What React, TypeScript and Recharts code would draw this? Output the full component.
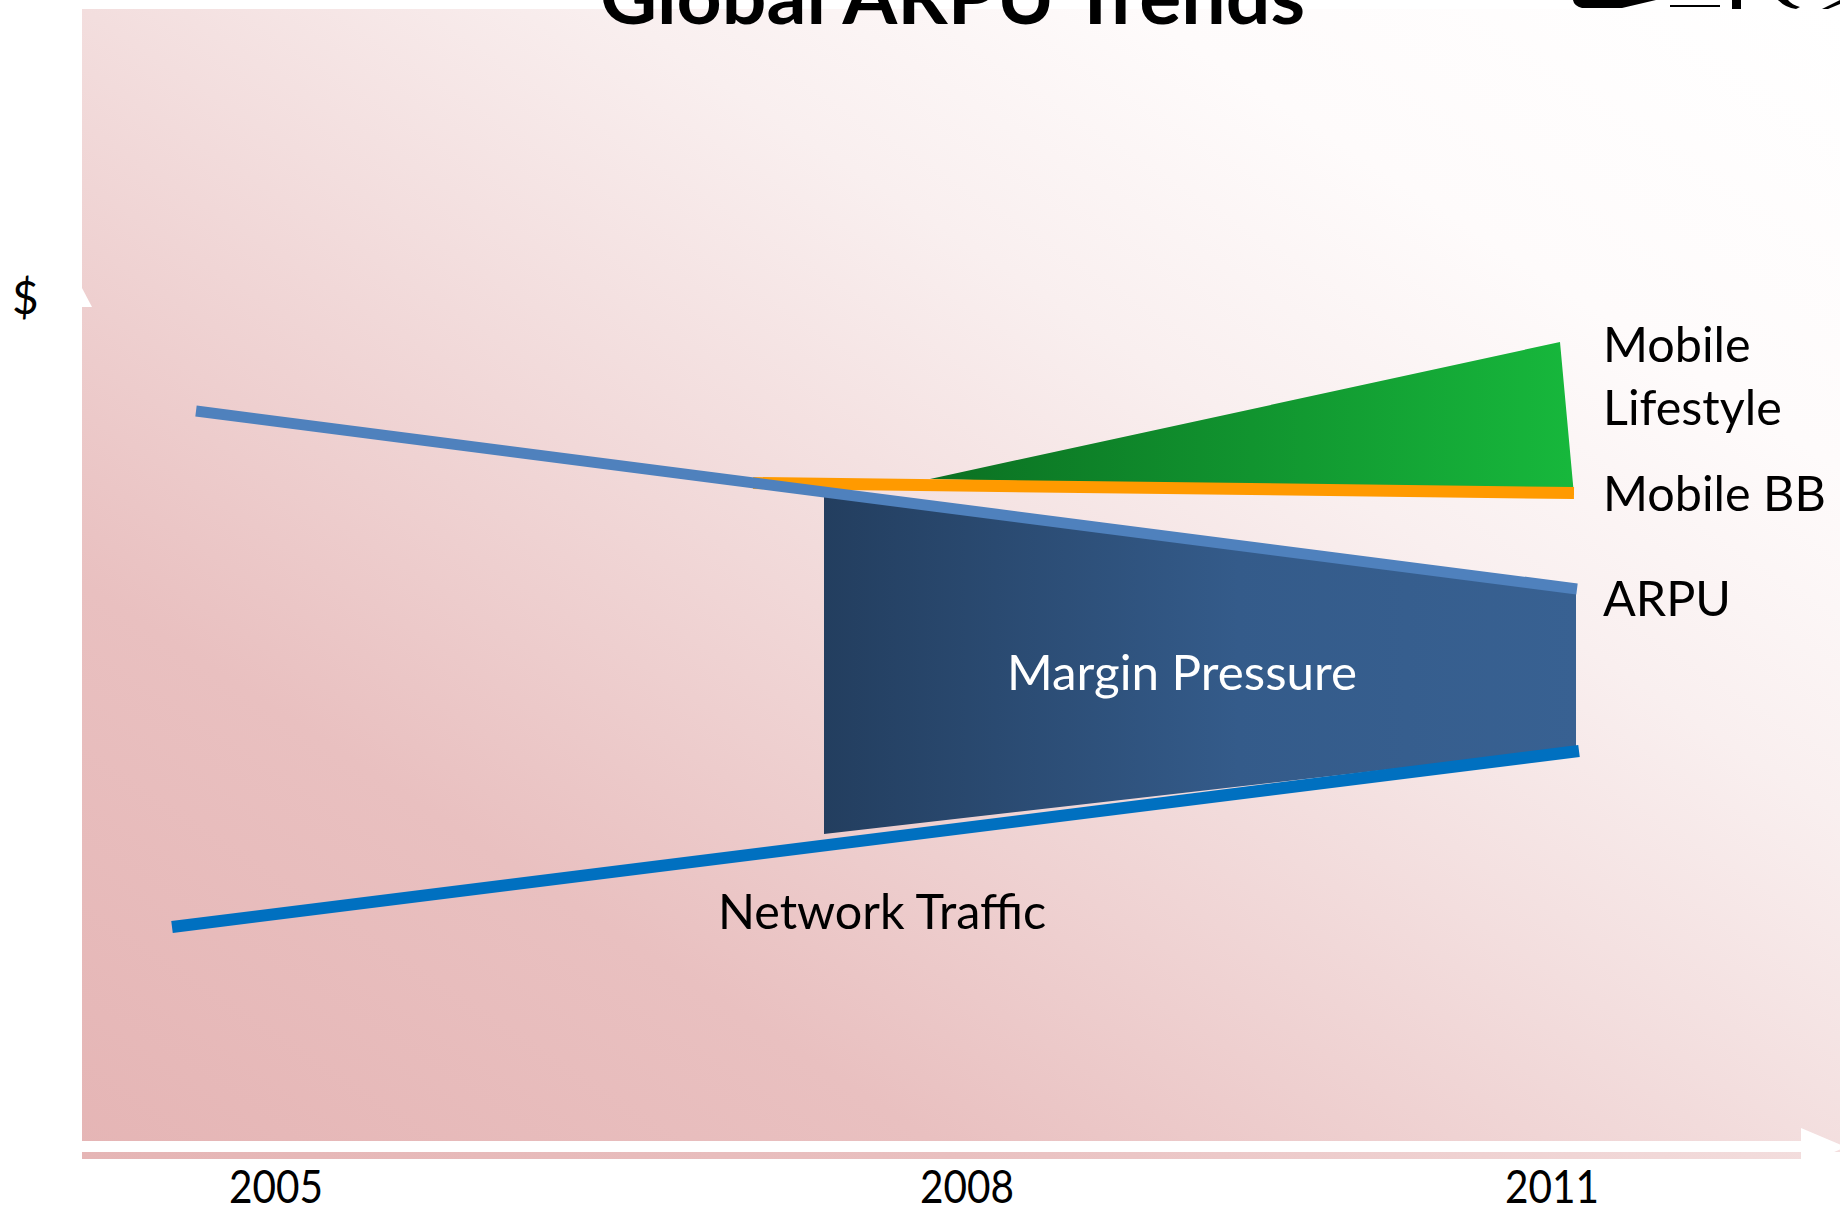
import React from 'react';
import { ComposedChart, Line, Area, XAxis, YAxis } from 'recharts';

const W = 1840;
const H = 1213;
const FONT = "Lato, 'Open Sans', sans-serif";

// Timeline positions of the year labels and their text
const xTickPositions = [19.4, 88.5, 147.0];
const xTickLabels = ['2005', '2008', '2011'];

// ARPU (falling)
const arpuT = [11.4, 149.5];
const arpuV = [74.8, 57.0];

// Network traffic (rising)
const trafficT = [9.0, 149.7];
const trafficV = [23.2, 40.8];

// Mobile BB (flat orange band)
const mobileBBT = [67.1, 149.2];
const mobileBBV = [67.6, 66.6];

// Mobile Lifestyle (green wedge) – low / high edges
const lifestyleT = [84.8, 147.8, 149.2];
const lifestyleLow = [68.0, 66.5, 66.4];
const lifestyleHigh = [68.0, 81.7, 66.4];

// Margin Pressure (navy band) – low / high edges
const marginT = [74.2, 149.4];
const marginLow = [32.5, 41.1];
const marginHigh = [66.7, 57.4];

const arpuData = arpuT.map((t, i) => ({ t, v: arpuV[i] }));
const trafficData = trafficT.map((t, i) => ({ t, v: trafficV[i] }));
const mobileBBData = mobileBBT.map((t, i) => ({ t, v: mobileBBV[i] }));
const lifestyleData = lifestyleT.map((t, i) => ({ t, range: [lifestyleLow[i], lifestyleHigh[i]] }));
const marginData = marginT.map((t, i) => ({ t, range: [marginLow[i], marginHigh[i]] }));

const YearTick = (props: any) => {
  const { x, y, index } = props;
  return (
    <text
      x={x}
      y={y + 44}
      textAnchor="middle"
      fontFamily={FONT}
      fontSize={46}
      fill="#000"
      textLength={94}
      lengthAdjust="spacingAndGlyphs"
    >
      {xTickLabels[index]}
    </text>
  );
};

const Overlay = () => (
  <svg
    width={W}
    height={H}
    style={{ position: 'absolute', left: 0, top: 0, pointerEvents: 'none', overflow: 'hidden' }}
  >
    {/* x-axis arrow */}
    <polygon
      points="82,1141 1801,1141 1801,1128 1846,1147 1801,1166 1801,1152 82,1152"
      fill="#ffffff"
    />
    <rect x={1801} y={1152} width={40} height={9} fill="#ffffff" />
    {/* y-axis arrow head */}
    <polygon points="82,288 92,307 82,307" fill="#ffffff" />

    {/* logo fragment top right */}
    <path d="M1573,0 L1656,0 L1622,8 L1582,8 Q1574,6 1573,0 Z" fill="#000" />
    <rect x={1670} y={5} width={50} height={2} fill="#000" />
    <rect x={1732} y={0} width={9} height={9} fill="#000" />
    <path d="M1778,0 Q1786,8 1796,9 L1800,7 Q1792,5 1788,0 Z" fill="#000" />
    <path d="M1822,9 L1840,0 L1840,4 L1828,9 Z" fill="#000" />

    {/* title (cut at top) */}
    <text
      x={600}
      y={24}
      fontFamily={FONT}
      fontWeight={700}
      fontSize={76}
      fill="#000"
      textLength={705}
      lengthAdjust="spacingAndGlyphs"
    >
      Global ARPU Trends
    </text>

    <text x={12} y={314} fontFamily={FONT} fontSize={46} fill="#000">$</text>

    <text x={1603} y={362} fontFamily={FONT} fontSize={48.5} fill="#000">Mobile</text>
    <text x={1603} y={425} fontFamily={FONT} fontSize={48.5} fill="#000">Lifestyle</text>
    <text x={1603} y={511} fontFamily={FONT} fontSize={48.5} fill="#000">Mobile BB</text>
    <text x={1603} y={616} fontFamily={FONT} fontSize={48.5} fill="#000">ARPU</text>

    <text
      x={1007}
      y={690}
      fontFamily={FONT}
      fontSize={48}
      fill="#ffffff"
      textLength={350}
      lengthAdjust="spacingAndGlyphs"
    >
      Margin Pressure
    </text>
    <text x={718} y={929} fontFamily={FONT} fontSize={48.5} fill="#000">Network Traffic</text>
  </svg>
);

export default function App() {
  return (
    <div style={{ position: 'absolute', left: 0, top: 0, width: W, height: H, background: '#fff', overflow: 'hidden' }}>
      <div
        style={{
          position: 'absolute',
          left: 82,
          top: 9,
          width: W - 82,
          height: 1150,
          background:
            'linear-gradient(to top right, #E5B5B5 0%, #E9C0C0 25%, #F3DEDE 50%, #F9EFEF 65%, #FEFBFB 80%, #FFFFFF 100%)',
        }}
      />
      <div style={{ position: 'absolute', left: 0, top: 0 }}>
        <ComposedChart width={W} height={H} margin={{ top: 9, right: 0, bottom: 0, left: 82 }}>
          <defs>
            <linearGradient id="gMargin" x1="0" y1="0" x2="1" y2="0">
              <stop offset="0%" stopColor="#233E5F" />
              <stop offset="55%" stopColor="#345B8A" />
              <stop offset="100%" stopColor="#386192" />
            </linearGradient>
            <linearGradient id="gLife" x1="0" y1="0" x2="1" y2="0">
              <stop offset="0%" stopColor="#0B7022" />
              <stop offset="100%" stopColor="#17B83C" />
            </linearGradient>
          </defs>
          <XAxis
            dataKey="t"
            type="number"
            domain={[0, 175.8]}
            ticks={xTickPositions}
            interval={0}
            tick={<YearTick />}
            tickSize={0}
            tickMargin={0}
            axisLine={false}
            tickLine={false}
            height={54}
            allowDataOverflow
          />
          <YAxis type="number" domain={[0, 115]} hide width={0} allowDataOverflow />
          <Area
            data={marginData}
            dataKey="range"
            type="linear"
            stroke="none"
            fill="url(#gMargin)"
            fillOpacity={1}
            isAnimationActive={false}
            activeDot={false}
          />
          <Area
            data={lifestyleData}
            dataKey="range"
            type="linear"
            stroke="none"
            fill="url(#gLife)"
            fillOpacity={1}
            isAnimationActive={false}
            activeDot={false}
          />
          <Line
            data={mobileBBData}
            dataKey="v"
            type="linear"
            stroke="#FF9A00"
            strokeWidth={12}
            dot={false}
            activeDot={false}
            isAnimationActive={false}
          />
          <Line
            data={arpuData}
            dataKey="v"
            type="linear"
            stroke="#4F81BD"
            strokeWidth={11}
            dot={false}
            activeDot={false}
            isAnimationActive={false}
          />
          <Line
            data={trafficData}
            dataKey="v"
            type="linear"
            stroke="#0070C0"
            strokeWidth={12}
            dot={false}
            activeDot={false}
            isAnimationActive={false}
          />
        </ComposedChart>
      </div>
      <Overlay />
    </div>
  );
}
